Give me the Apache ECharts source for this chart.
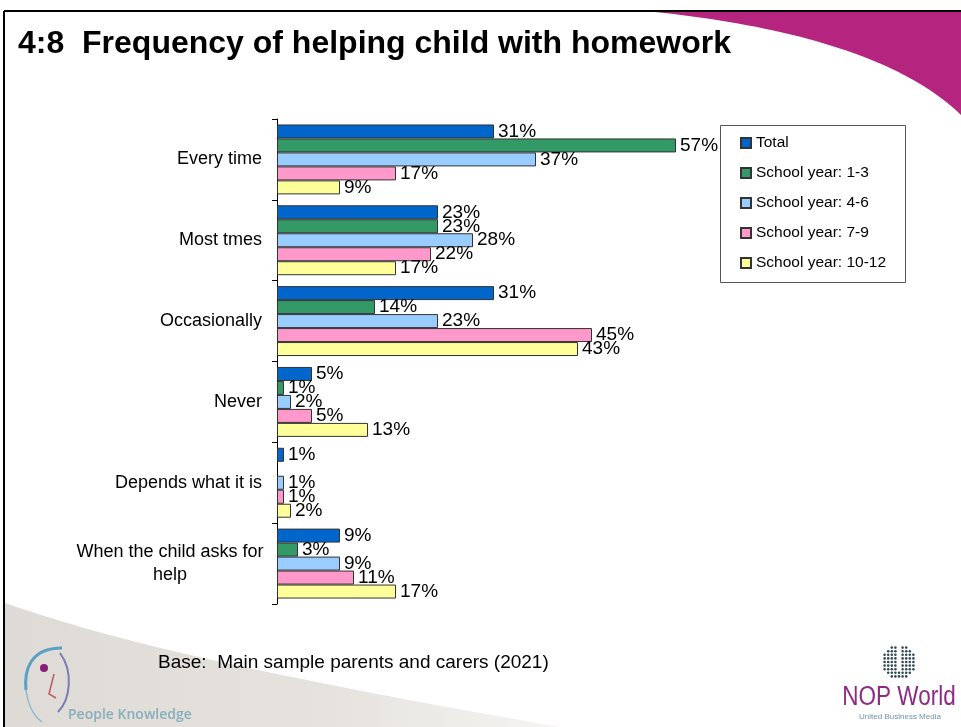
<!DOCTYPE html>
<html>
<head>
<meta charset="utf-8">
<title>Frequency of helping child with homework</title>
<script src="https://cdn.jsdelivr.net/npm/echarts@6/dist/echarts.min.js"></script>
<style>
  html, body { margin: 0; padding: 0; background: #fff; }
  #chart { width: 961px; height: 727px; }
</style>
</head>
<body>
<div id="chart"></div>
<script>
// Survey answers (percent of parents and carers)
const categories = [
  'Every time',
  'Most tmes',
  'Occasionally',
  'Never',
  'Depends what it is',
  'When the child asks for\nhelp'
];
const seriesNames = [
  'Total',
  'School year: 1-3',
  'School year: 4-6',
  'School year: 7-9',
  'School year: 10-12'
];
const total     = [31, 23, 31, 5, 1, 9];
const year1to3  = [57, 23, 14, 1, '-', 3];
const year4to6  = [37, 28, 23, 2, 1, 9];
const year7to9  = [17, 22, 45, 5, 1, 11];
const year10to12 = [9, 17, 43, 13, 2, 17];

const seriesValues = [total, year1to3, year4to6, year7to9, year10to12];
const seriesColors = ['#0066CC', '#339966', '#99CCFF', '#FF99CC', '#FFFF99'];

const FONT = '"Liberation Sans", Arial, Helvetica, sans-serif';

// sample a cubic bezier into polygon points
function cubic(p0, p1, p2, p3, n) {
  const pts = [];
  for (let i = 0; i <= n; i++) {
    const t = i / n, u = 1 - t;
    const a = u * u * u, b = 3 * u * u * t, c = 3 * u * t * t, d = t * t * t;
    pts.push([a * p0[0] + b * p1[0] + c * p2[0] + d * p3[0],
              a * p0[1] + b * p1[1] + c * p2[1] + d * p3[1]]);
  }
  return pts;
}

// magenta corner swoosh
const magentaPts = [[655, 12], [961, 12]].concat(
  cubic([961, 115], [900, 55], [780, 25], [655, 12], 40));

// grey swoosh at bottom left
const greyPts = cubic([5, 603], [110, 640], [260, 675], [560, 727], 40).concat([[5, 727]]);

// dotted "U" emblem: a round cluster of dots split by a slot from the top
const uDots = [];
(function () {
  const cx = 899, cy = 662, step = 3.6;
  for (let gx = -5; gx <= 5; gx++) {
    for (let gy = -5; gy <= 5; gy++) {
      const x = gx * step, y = gy * step;
      const inEllipse = (x * x) / (17 * 17) + (y * y) / (16 * 16) <= 1;
      const inSlot = Math.abs(x) < 3 && y < 9;
      if (inEllipse && !inSlot) {
        uDots.push({
          type: 'circle', silent: true, z: 1,
          shape: { cx: cx + x, cy: cy + y, r: 1.3 },
          style: { fill: '#2f4a55' }
        });
      }
    }
  }
})();

const chart = echarts.init(document.getElementById('chart'), null, { renderer: 'canvas' });

const option = {
  animation: false,
  backgroundColor: '#ffffff',
  textStyle: { fontFamily: FONT },
  grid: { left: 277, top: 119, width: 420, height: 485, containLabel: false },
  xAxis: {
    type: 'value', min: 0, max: 60, show: false,
    splitLine: { show: false }
  },
  yAxis: {
    type: 'category',
    inverse: true,
    data: categories,
    axisLine: { show: true, lineStyle: { color: '#000', width: 1 } },
    axisTick: { show: true, length: 5, lineStyle: { color: '#000' } },
    axisLabel: {
      margin: 15,
      fontSize: 18,
      color: '#000',
      fontFamily: FONT,
      formatter: function (v) {
        if (v.indexOf('\n') >= 0) {
          return v.split('\n').map(function (s) { return '{c|' + s + '}'; }).join('\n');
        }
        return v;
      },
      rich: {
        c: { fontSize: 18, color: '#000', fontFamily: FONT, width: 184, align: 'center', lineHeight: 23 }
      }
    }
  },
  legend: {
    orient: 'vertical',
    left: 740,
    top: 135,
    itemWidth: 10,
    itemHeight: 10,
    itemGap: 14,
    icon: 'rect',
    padding: 0,
    textStyle: { fontSize: 15.5, color: '#000', fontFamily: FONT, lineHeight: 16 },
    data: seriesNames
  },
  series: seriesNames.map(function (name, i) {
    return {
      name: name,
      type: 'bar',
      data: seriesValues[i],
      barGap: '0%',
      barCategoryGap: '13.5%',
      itemStyle: { color: seriesColors[i], borderColor: '#333', borderWidth: 1 },
      label: {
        show: true,
        position: 'right',
        distance: 4,
        formatter: '{c}%',
        fontSize: 19,
        color: '#000',
        fontFamily: FONT
      },
      emphasis: { disabled: true }
    };
  }),
  graphic: [
    { type: 'polygon', silent: true, z: -10, shape: { points: magentaPts }, style: { fill: '#B5257F' } },
    {
      type: 'polygon', silent: true, z: -10, shape: { points: greyPts },
      style: {
        fill: new echarts.graphic.LinearGradient(0, 0, 1, 0, [
          { offset: 0, color: '#dedad5' },
          { offset: 0.6, color: '#e6e3df' },
          { offset: 1, color: '#f6f5f3' }
        ])
      }
    },
    // slide frame
    { type: 'line', silent: true, z: 5, shape: { x1: 4, y1: 11, x2: 961, y2: 11 }, style: { stroke: '#000', lineWidth: 2 } },
    { type: 'line', silent: true, z: 5, shape: { x1: 4, y1: 11, x2: 4, y2: 727 }, style: { stroke: '#000', lineWidth: 2 } },
    // legend frame
    { type: 'rect', silent: true, z: -1, shape: { x: 720.5, y: 125.5, width: 185, height: 157 }, style: { fill: '#fff', stroke: '#555', lineWidth: 1 } },
    // title
    {
      type: 'text', silent: true, z: 5, x: 18, y: 44,
      style: {
        text: '4:8  Frequency of helping child with homework',
        fontSize: 32, fontWeight: 'bold', fontFamily: FONT, fill: '#000',
        verticalAlign: 'middle', align: 'left'
      }
    },
    // base note
    {
      type: 'text', silent: true, z: 5, x: 158, y: 663,
      style: {
        text: 'Base:  Main sample parents and carers (2021)',
        fontSize: 19, fontFamily: FONT, fill: '#000',
        verticalAlign: 'middle', align: 'left'
      }
    },
    // People Knowledge mark
    { type: 'bezierCurve', silent: true, z: 2, shape: { x1: 62, y1: 648, cpx1: 30, cpy1: 648, x2: 26, y2: 690, cpx2: 24, cpy2: 670 }, style: { stroke: '#5b9fc4', lineWidth: 3, fill: null } },
    { type: 'bezierCurve', silent: true, z: 2, shape: { x1: 26, y1: 690, cpx1: 28, cpy1: 706, x2: 42, y2: 722, cpx2: 34, cpy2: 716 }, style: { stroke: '#8fb8cf', lineWidth: 1.5, fill: null } },
    { type: 'bezierCurve', silent: true, z: 2, shape: { x1: 60, y1: 653, cpx1: 74, cpy1: 672, x2: 58, y2: 712, cpx2: 70, cpy2: 700 }, style: { stroke: '#7f7ab0', lineWidth: 2, fill: null } },
    { type: 'circle', silent: true, z: 2, shape: { cx: 44, cy: 668, r: 4 }, style: { fill: '#8a1f7a' } },
    { type: 'polyline', silent: true, z: 2, shape: { points: [[54, 674], [49, 694], [56, 698]] }, style: { stroke: '#c0566a', lineWidth: 1.5, fill: null } },
    {
      type: 'text', silent: true, z: 5, x: 68, y: 715,
      style: {
        text: 'People Knowledge', fontSize: 14, fontWeight: 600,
        fontFamily: '"Open Sans", "Noto Sans", sans-serif', fill: '#86aebb',
        verticalAlign: 'middle', align: 'left'
      }
    },
    // NOP World mark
    {
      type: 'text', silent: true, z: 5, x: 899, y: 698, scaleY: 1.2,
      style: {
        text: 'NOP World', fontSize: 22.5,
        fontFamily: FONT, fill: '#8e2a84',
        verticalAlign: 'middle', align: 'center'
      }
    },
    {
      type: 'text', silent: true, z: 5, x: 900, y: 717,
      style: {
        text: 'United Business Media', fontSize: 8,
        fontFamily: FONT, fill: '#6f93ad',
        verticalAlign: 'middle', align: 'center'
      }
    }
  ].concat(uDots)
};

chart.setOption(option);
</script>
</body>
</html>
